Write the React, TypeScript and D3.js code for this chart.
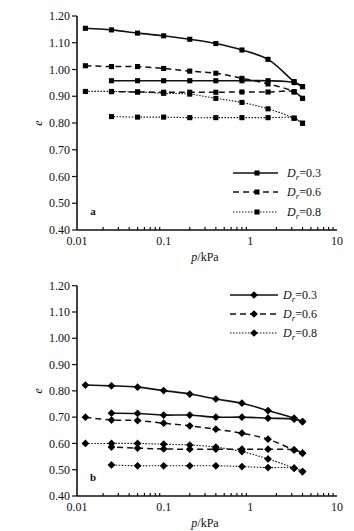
import React, { useEffect, useRef } from 'react';
import * as d3 from 'd3';

// pressure steps (kPa)
const pLoad = [0.0125, 0.025, 0.05, 0.1, 0.2, 0.4, 0.8, 1.6, 3.2, 4];
const pUnload = [4, 3.2, 1.6, 0.8, 0.4, 0.2, 0.1, 0.05, 0.025];

// panel a
const a03Load = [1.154, 1.148, 1.136, 1.126, 1.113, 1.097, 1.073, 1.038, 0.955, 0.936];
const a03Unload = [0.936, 0.951, 0.958, 0.958, 0.958, 0.958, 0.958, 0.958, 0.958];
const a06Load = [1.014, 1.011, 1.011, 1.004, 0.994, 0.986, 0.967, 0.946, 0.917, 0.892];
const a06Unload = [0.892, 0.916, 0.916, 0.916, 0.915, 0.915, 0.915, 0.916, 0.917];
const a08Load = [0.918, 0.918, 0.916, 0.911, 0.908, 0.892, 0.877, 0.853, 0.818, 0.799];
const a08Unload = [0.799, 0.818, 0.82, 0.82, 0.82, 0.82, 0.822, 0.822, 0.824];

// panel b
const b03Load = [0.822, 0.819, 0.814, 0.801, 0.788, 0.769, 0.753, 0.725, 0.696, 0.683];
const b03Unload = [0.683, 0.692, 0.696, 0.7, 0.7, 0.708, 0.708, 0.714, 0.715];
const b06Load = [0.7, 0.689, 0.687, 0.677, 0.667, 0.654, 0.639, 0.616, 0.575, 0.563];
const b06Unload = [0.563, 0.575, 0.578, 0.578, 0.578, 0.578, 0.579, 0.582, 0.586];
const b08Load = [0.6, 0.6, 0.6, 0.597, 0.594, 0.586, 0.569, 0.541, 0.506, 0.493];
const b08Unload = [0.493, 0.506, 0.508, 0.512, 0.515, 0.515, 0.515, 0.515, 0.518];

const yTicks = [0.4, 0.5, 0.6, 0.7, 0.8, 0.9, 1.0, 1.1, 1.2];
const xTicks = [0.01, 0.1, 1, 10];
const legendLabels = ['0.3', '0.6', '0.8'];

const FONT = '"Liberation Serif", "DejaVu Serif", serif';
const styles = [
  { dash: null, width: 1.6 },
  { dash: '6,4', width: 1.5 },
  { dash: '1.5,1.5', width: 1.1 },
];

type Panel = {
  label: string;
  top: number;
  bottom: number;
  series: [number[], number[]][];
  rot: number;
  symSize: number;
  legend: { x1: number; x2: number; mx: number; tx: number; ys: number[] };
};

const panels: Panel[] = [
  {
    label: 'a', top: 16, bottom: 230, rot: 0, symSize: 26,
    series: [[a03Load, a03Unload], [a06Load, a06Unload], [a08Load, a08Unload]],
    legend: { x1: 233, x2: 278, mx: 257, tx: 287, ys: [173, 192, 212] },
  },
  {
    label: 'b', top: 285.7, bottom: 496, rot: 45, symSize: 30,
    series: [[b03Load, b03Unload], [b06Load, b06Unload], [b08Load, b08Unload]],
    legend: { x1: 230, x2: 278, mx: 254, tx: 283, ys: [295, 314, 333] },
  },
];

export default function App() {
  const ref = useRef<SVGSVGElement>(null);

  useEffect(() => {
    if (!ref.current) return;
    const svg = d3.select(ref.current);
    svg.selectAll('*').remove();
    svg.append('rect').attr('width', 354).attr('height', 531).attr('fill', '#fff');

    const x = d3.scaleLog().domain([0.01, 10]).range([77, 337]);

    panels.forEach(pn => {
      const y = d3.scaleLinear().domain([0.4, 1.2]).range([pn.bottom, pn.top]);
      const g = svg.append('g');

      // y axis
      g.append('line').attr('x1', 77).attr('x2', 77).attr('y1', pn.top).attr('y2', pn.bottom)
        .attr('stroke', '#111').attr('stroke-width', 1.6);
      yTicks.forEach(t => {
        g.append('line').attr('x1', 72).attr('x2', 77).attr('y1', y(t)).attr('y2', y(t))
          .attr('stroke', '#111').attr('stroke-width', 1.2);
        g.append('text').attr('x', 70).attr('y', y(t)).attr('dy', '0.35em')
          .attr('text-anchor', 'end').attr('font-family', FONT).attr('font-size', 12)
          .attr('fill', '#111').text(t.toFixed(2));
      });

      // x axis
      g.append('line').attr('x1', 77).attr('x2', 337).attr('y1', pn.bottom).attr('y2', pn.bottom)
        .attr('stroke', '#111').attr('stroke-width', 1.6);
      const minor: number[] = [];
      [0.01, 0.1, 1].forEach(d => { for (let k = 2; k <= 9; k++) minor.push(d * k); });
      minor.forEach(t => {
        g.append('line').attr('x1', x(t)).attr('x2', x(t)).attr('y1', pn.bottom).attr('y2', pn.bottom - 3)
          .attr('stroke', '#111').attr('stroke-width', 1.2);
      });
      xTicks.forEach(t => {
        g.append('text').attr('x', x(t)).attr('y', pn.bottom + 15)
          .attr('text-anchor', 'middle').attr('font-family', FONT).attr('font-size', 12)
          .attr('fill', '#111').text(String(t));
      });
      const xl = g.append('text').attr('x', 205).attr('y', pn.bottom + 31)
        .attr('text-anchor', 'middle').attr('font-family', FONT).attr('font-size', 12).attr('fill', '#111');
      xl.append('tspan').attr('font-style', 'italic').text('p');
      xl.append('tspan').text('/kPa');
      g.append('text')
        .attr('transform', `translate(42,${(pn.top + pn.bottom) / 2}) rotate(-90)`)
        .attr('text-anchor', 'middle').attr('font-family', FONT).attr('font-size', 12)
        .attr('font-style', 'italic').attr('fill', '#111').text('e');

      g.append('text').attr('x', 93).attr('y', y(0.47)).attr('dy', '0.35em')
        .attr('text-anchor', 'middle').attr('font-family', FONT).attr('font-size', 11)
        .attr('font-weight', 'bold').attr('fill', '#111').text(pn.label);

      const line = d3.line<[number, number]>()
        .x(d => x(d[0])).y(d => y(d[1])).curve(d3.curveCatmullRom.alpha(0.5));
      const sym = d3.symbol().type(d3.symbolSquare).size(pn.symSize);

      pn.series.forEach(([load, unload], i) => {
        const st = styles[i];
        const parts: [number, number][][] = [
          pLoad.map((p, k) => [p, load[k]]),
          pUnload.map((p, k) => [p, unload[k]]),
        ];
        parts.forEach(pts => {
          g.append('path').attr('d', line(pts)!).attr('fill', 'none')
            .attr('stroke', '#111').attr('stroke-width', st.width)
            .attr('stroke-dasharray', st.dash);
          pts.forEach(d => {
            g.append('path').attr('d', sym()!)
              .attr('transform', `translate(${x(d[0])},${y(d[1])}) rotate(${pn.rot})`).attr('fill', '#000');
          });
        });

        // legend row
        const ly = pn.legend.ys[i];
        g.append('line').attr('x1', pn.legend.x1).attr('x2', pn.legend.x2).attr('y1', ly).attr('y2', ly)
          .attr('stroke', '#111').attr('stroke-width', st.width).attr('stroke-dasharray', st.dash);
        g.append('path').attr('d', sym()!)
          .attr('transform', `translate(${pn.legend.mx},${ly}) rotate(${pn.rot})`).attr('fill', '#000');
        const t = g.append('text').attr('x', pn.legend.tx).attr('y', ly).attr('dy', '0.35em')
          .attr('font-family', FONT).attr('font-size', 12).attr('fill', '#111');
        t.append('tspan').attr('font-style', 'italic').text('D');
        t.append('tspan').attr('font-style', 'italic').attr('font-size', 9).attr('dy', 3).text('r');
        t.append('tspan').attr('dy', -3).text('=' + legendLabels[i]);
      });
    });
  }, []);

  return (
    <svg ref={ref} width={354} height={531}
      style={{ position: 'fixed', left: 0, top: 0, background: '#fff' }} />
  );
}
